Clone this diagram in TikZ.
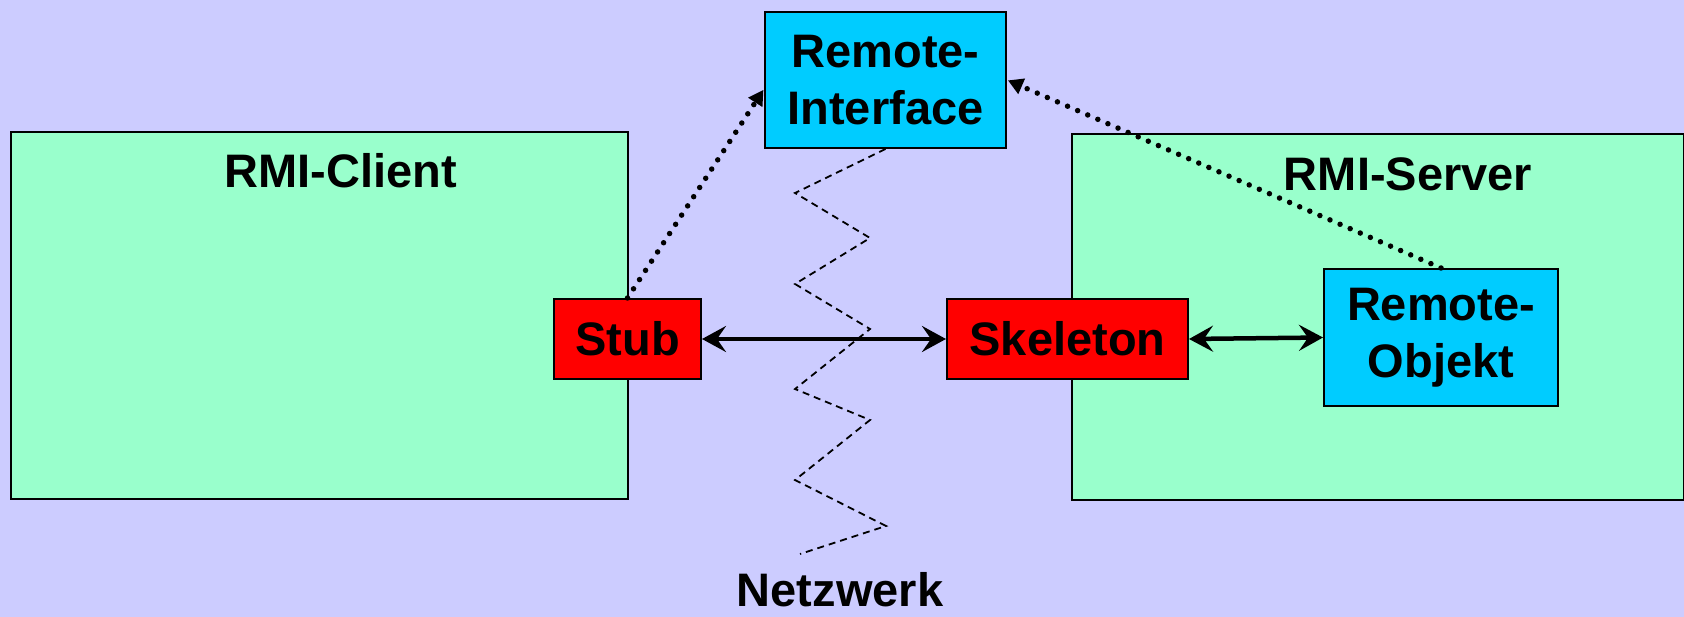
\documentclass[tikz,border=0pt]{standalone}
\usepackage{fontspec}
\setmainfont{Liberation Sans}
\usetikzlibrary{arrows.meta}
\definecolor{bgc}{HTML}{CCCCFF}
\definecolor{grn}{HTML}{99FFCC}
\definecolor{cyn}{HTML}{00CCFF}
\definecolor{rd}{HTML}{FF0000}
\tikzset{
  box/.style={draw=black, line width=2pt, inner sep=0pt, align=center, anchor=north west},
  lbl/.style={inner sep=0pt, anchor=base},
  dots/.style={line width=5.5pt, line cap=round, dash pattern=on 0pt off 11pt, -{Triangle[length=15pt,width=16pt]}, shorten >=1pt},
  biarrow/.style={line width=4.5pt, {Stealth[length=24pt,width=26pt,inset=9pt]}-{Stealth[length=24pt,width=26pt,inset=9pt]}},
  netz/.style={line width=1.8pt, dash pattern=on 7pt off 5pt}
}
\begin{document}
\begin{tikzpicture}[x=1pt,y=-1pt,font=\fontsize{47}{57}\selectfont\bfseries]
\fill[bgc] (0,0) rectangle (1684,617);
\useasboundingbox (0,0) rectangle (1684,617);
% big boxes
\node[box, fill=grn, minimum width=617pt, minimum height=367pt] (client) at (10,131) {};
\node[box, fill=grn, minimum width=612pt, minimum height=366pt] (server) at (1071,133) {};
\node[lbl] (clientlbl) at (341,188) {RMI-Client};
\node[lbl] (serverlbl) at (1408,191) {RMI-Server};
% network zigzag
\node[box, fill=cyn, minimum width=241pt, minimum height=136pt] (ri) at (764,11) {Remote-\\Interface};
\coordinate (z1) at (795,193);
\coordinate (z2) at (870,238);
\coordinate (z3) at (795,284);
\coordinate (z4) at (870,329);
\coordinate (z5) at (795,389);
\coordinate (z6) at (870,420);
\coordinate (z7) at (795,480);
\coordinate (z8) at (886,526);
\coordinate (z9) at (800,554);
\draw[netz] (ri.south) -- (z1) -- (z2) -- (z3) -- (z4) -- (z5) -- (z6) -- (z7) -- (z8) -- (z9);
\node[lbl] (netzlbl) at (840,606) {Netzwerk};
% small boxes
\node[box, fill=rd, minimum width=147pt, minimum height=80pt] (stub) at (553,298) {Stub};
\node[box, fill=rd, minimum width=241pt, minimum height=80pt] (skel) at (946,298) {Skeleton};
\node[box, fill=cyn, minimum width=234pt, minimum height=137pt] (ro) at (1323,268) {Remote-\\Objekt};
% arrows
\draw[biarrow] (stub.east) -- (skel.west);
\draw[biarrow] (skel.east) -- (ro.west);
\draw[dots] (stub.north) -- ([yshift=-9pt]ri.west);
\draw[dots] (ro.north) -- (ri.east);
\end{tikzpicture}
\end{document}
